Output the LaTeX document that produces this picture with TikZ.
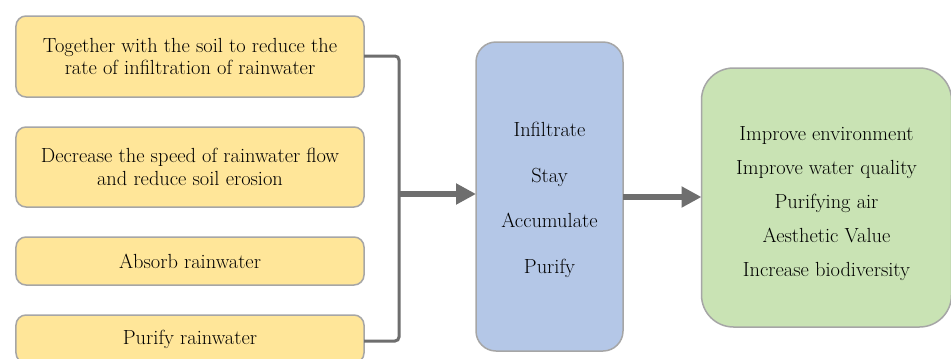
\documentclass[tikz,border=0pt]{standalone}
\usetikzlibrary{arrows.meta}
\definecolor{ybox}{HTML}{FFE699}
\definecolor{bbox}{HTML}{B4C7E7}
\definecolor{gbox}{HTML}{C9E3B4}
\definecolor{edgegray}{HTML}{A6A6A6}
\definecolor{conn}{HTML}{6E6E6E}
\begin{document}
\begin{tikzpicture}[x=1bp,y=-1bp,
  every node/.style={inner sep=0pt, outer sep=0pt, text=black},
  txt/.style={font=\fontsize{20.5}{23}\selectfont, align=center},
  ycard/.style={txt, draw=edgegray, line width=1.5bp, fill=ybox, rounded corners=10bp, minimum width=348bp},
  bcard/.style={font=\fontsize{20.5}{46}\selectfont, align=center, draw=edgegray, line width=1.5bp, fill=bbox, rounded corners=20bp, minimum width=147bp, minimum height=309bp},
  gcard/.style={font=\fontsize{20.5}{34.3}\selectfont, align=center, draw=edgegray, line width=1.5bp, fill=gbox, rounded corners=32bp, minimum width=250bp, minimum height=259bp},
  bracket/.style={draw=conn, line width=3bp, rounded corners=4bp},
  bigarrow/.style={draw=conn, line width=6bp, -{Triangle[length=20bp,width=20bp]}}
]
\clip (0,0) rectangle (951,358);
\fill[white] (0,0) rectangle (951,358);
\node[ycard, minimum height=81bp] (a) at (190,56.5) {Together with the soil to reduce the\\rate of infiltration of rainwater};
\node[ycard, minimum height=80bp] (b) at (190,167) {Decrease the speed of rainwater flow\\and reduce soil erosion};
\node[ycard, minimum height=48bp] (c) at (190,261) {Absorb rainwater};
\node[ycard, minimum height=48bp] (d) at (190,339) {Purify rainwater};
\node[bcard] (p) at (549.5,196.5) {\rule{0pt}{21bp}Infiltrate\\Stay\\Accumulate\\Purify};
\node[gcard] (g) at (826.5,197.5) {\\[-8bp]Improve environment\\Improve water quality\\Purifying air\\Aesthetic Value\\Increase biodiversity};
\coordinate (top) at (399,56);
\coordinate (bot) at (399,341);
\coordinate (mid) at (399,194);
\draw[bracket] (a.east |- 0,56) -- (top) -- (bot) -- (d.east |- 0,341);
\draw[bigarrow] (mid) -- (p.west |- mid);
\draw[bigarrow] (p.east |- 0,197) -- (g.west |- 0,197);
\end{tikzpicture}
\end{document}
